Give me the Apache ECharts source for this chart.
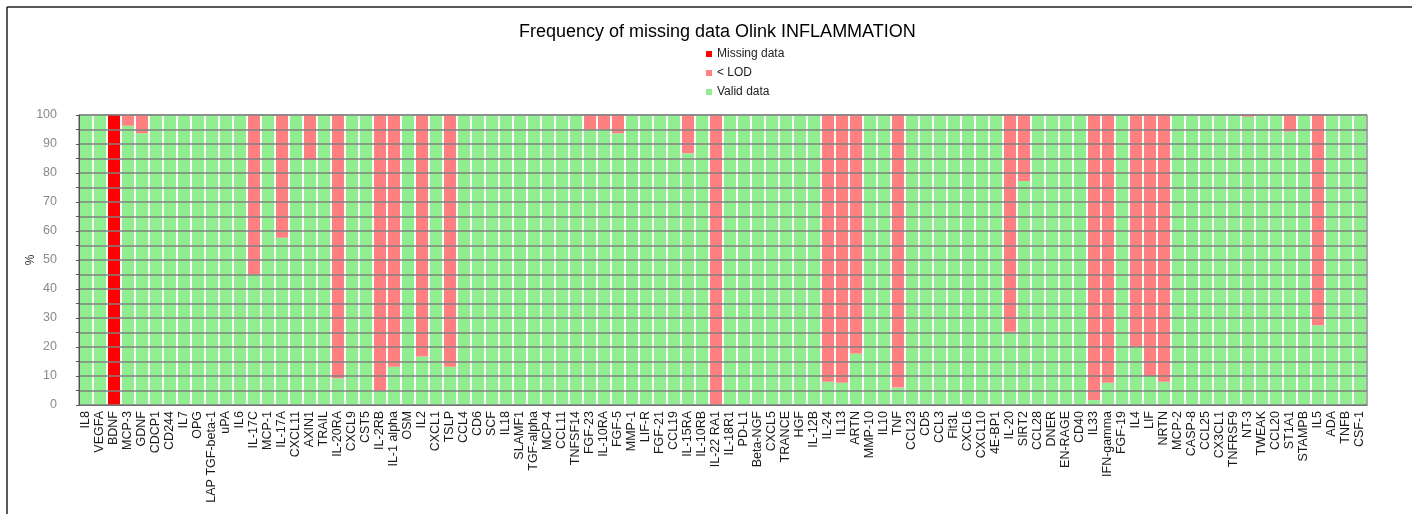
<!DOCTYPE html>
<html>
<head>
<meta charset="utf-8">
<script src="https://cdn.jsdelivr.net/npm/echarts@6/dist/echarts.min.js"></script>
<style>
html,body{margin:0;padding:0;background:#fff;}
#chart{width:1412px;height:514px;}
</style>
</head>
<body>
<div id="chart"></div>
<script>
var categories = ['IL8','VEGFA','BDNF','MCP-3','GDNF','CDCP1','CD244','IL7','OPG','LAP TGF-beta-1','uPA','IL6','IL-17C','MCP-1','IL-17A','CXCL11','AXIN1','TRAIL','IL-20RA','CXCL9','CST5','IL-2RB','IL-1 alpha','OSM','IL2','CXCL1','TSLP','CCL4','CD6','SCF','IL18','SLAMF1','TGF-alpha','MCP-4','CCL11','TNFSF14','FGF-23','IL-10RA','FGF-5','MMP-1','LIF-R','FGF-21','CCL19','IL-15RA','IL-10RB','IL-22 RA1','IL-18R1','PD-L1','Beta-NGF','CXCL5','TRANCE','HGF','IL-12B','IL-24','IL13','ARTN','MMP-10','IL10','TNF','CCL23','CD5','CCL3','Flt3L','CXCL6','CXCL10','4E-BP1','IL-20','SIRT2','CCL28','DNER','EN-RAGE','CD40','IL33','IFN-gamma','FGF-19','IL4','LIF','NRTN','MCP-2','CASP-8','CCL25','CX3CL1','TNFRSF9','NT-3','TWEAK','CCL20','ST1A1','STAMPB','IL5','ADA','TNFB','CSF-1'];

var validData = [100,100,0,96.3,93.7,100,100,100,100,100,100,100,45.2,100,57.7,100,84.5,100,9.2,100,100,4.9,13.2,100,16.7,100,13.2,100,100,100,100,100,100,100,100,100,95.1,95.1,93.7,100,100,100,100,86.8,100,0,100,100,100,100,100,100,100,8.0,7.7,17.8,100,100,6.0,100,100,100,100,100,100,100,25.3,77.2,100,100,100,100,1.7,7.7,100,20.1,10.0,8.0,100,100,100,100,100,99.4,100,100,94.3,100,27.5,100,100,100];

var lodData = [0,0,0,3.7,6.3,0,0,0,0,0,0,0,54.8,0,42.3,0,15.5,0,90.8,0,0,95.1,86.8,0,83.3,0,86.8,0,0,0,0,0,0,0,0,0,4.9,4.9,6.3,0,0,0,0,13.2,0,100,0,0,0,0,0,0,0,92.0,92.3,82.2,0,0,94.0,0,0,0,0,0,0,0,74.7,22.8,0,0,0,0,98.3,92.3,0,79.9,90.0,92.0,0,0,0,0,0,0.6,0,0,5.7,0,72.5,0,0,0];

var missingData = [0,0,100,0,0,0,0,0,0,0,0,0,0,0,0,0,0,0,0,0,0,0,0,0,0,0,0,0,0,0,0,0,0,0,0,0,0,0,0,0,0,0,0,0,0,0,0,0,0,0,0,0,0,0,0,0,0,0,0,0,0,0,0,0,0,0,0,0,0,0,0,0,0,0,0,0,0,0,0,0,0,0,0,0,0,0,0,0,0,0,0,0];

var yTicks = [0,10,20,30,40,50,60,70,80,90,100];

var chart = echarts.init(document.getElementById('chart'), null, {renderer:'canvas'});
var font = 'Liberation Sans, Arial, sans-serif';
var option = {
  animation: false,
  backgroundColor: '#fff',
  title: {
    text: 'Frequency of missing data Olink INFLAMMATION',
    left: 514, top: 18,
    textStyle: {fontFamily: font, fontSize: 18, fontWeight: 'normal', color: '#000'}
  },
  legend: {
    orient: 'vertical', left: 701, top: 43,
    itemWidth: 6, itemHeight: 6, itemGap: 7,
    icon: 'rect',
    data: ['Missing data', '< LOD', 'Valid data'],
    textStyle: {fontFamily: font, fontSize: 12, color: '#222'}
  },
  graphic: [
    {type:'line', shape:{x1:7, y1:7, x2:1412, y2:7}, style:{stroke:'#222', lineWidth:1.5}},
    {type:'line', shape:{x1:7, y1:7, x2:7, y2:514}, style:{stroke:'#222', lineWidth:1.5}}
  ],
  grid: {
    left: 79, right: 45, top: 115, bottom: 109,
    show: true, borderColor: '#555', borderWidth: 1, backgroundColor: '#fff'
  },
  xAxis: {
    type: 'category',
    data: categories,
    axisTick: {show: false},
    axisLine: {show: true, lineStyle: {color: '#555', width: 1}},
    axisLabel: {interval: 0, rotate: 90, margin: 6, fontFamily: font, fontSize: 12.5, color: '#1a1a1a'}
  },
  yAxis: {
    type: 'value', min: 0, max: 100, interval: 5, z: 5,
    name: '%', nameLocation: 'middle', nameGap: 42, nameRotate: 90, nameMoveOverlap: false,
    nameTextStyle: {fontFamily: font, fontSize: 12, color: '#333'},
    axisLine: {show: true, lineStyle: {color: '#555', width: 1}},
    axisTick: {show: true, length: 3, lineStyle: {color: '#555'}},
    axisLabel: {
      margin: 22, fontFamily: font, fontSize: 12.5, color: '#8a8a8a',
      formatter: function (v) { return yTicks.indexOf(v) >= 0 ? String(v) : ''; }
    },
    splitLine: {show: true, lineStyle: {color: '#808080', width: 1.5}}
  },
  series: [
    {name: 'Valid data', type: 'bar', stack: 'a', data: validData, barCategoryGap: '14%', itemStyle: {color: '#90EE90'}},
    {name: '< LOD', type: 'bar', stack: 'a', data: lodData, itemStyle: {color: '#FF8080'}},
    {name: 'Missing data', type: 'bar', stack: 'a', data: missingData, itemStyle: {color: '#FF0000'}}
  ]
};
chart.setOption(option);
</script>
</body>
</html>
